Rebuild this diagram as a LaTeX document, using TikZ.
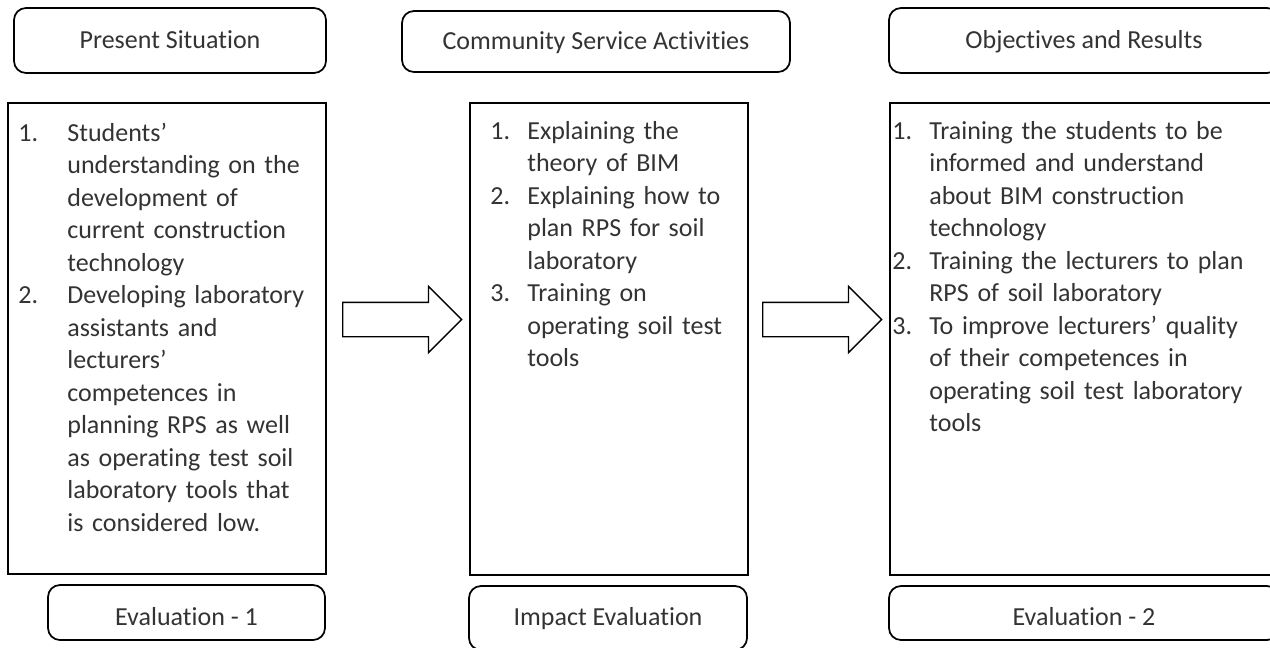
\documentclass[tikz,border=0pt]{standalone}
\usepackage{fontspec}
\setmainfont[Ligatures={TeX,NoCommon}]{Carlito}
\usepackage{enumitem}
\usetikzlibrary{shapes.arrows}
\newcommand{\boxfont}{\fontsize{14.8pt}{18.5pt}\selectfont}
\setlist[enumerate]{label=\arabic*., labelsep=0pt, align=left, nosep}
\tikzset{
        headbox/.style={draw, rounded corners=0.24cm, line width=1pt, inner sep=0pt, font=\boxfont, text=black!80, text height=12pt, text depth=3pt},
        lowtext/.style={text height=17.5pt},
        panel/.style={draw, line width=1pt, inner sep=0pt, anchor=north west},
        listtext/.style={anchor=north west, inner sep=0pt, text width=#1, align=left, font=\boxfont, text=black!80},
        listtext/.default=6cm,
        blockarrow/.style={draw, single arrow, single arrow head extend=0.32cm, minimum height=2.38cm, inner xsep=0pt, inner ysep=0.33cm, line width=0.8pt, anchor=tail}
}
\begin{document}
\begin{tikzpicture}
        \useasboundingbox (0,0) rectangle (25.4,-12.96);
        \node[headbox, minimum width=6.24cm, minimum height=1.30cm] (sit) at (3.40,-0.81) {Present Situation};
        \node[headbox, minimum width=7.76cm, minimum height=1.22cm] (act) at (11.92,-0.83) {Community Service Activities};
        \node[headbox, minimum width=7.80cm, minimum height=1.30cm] (obj) at (21.68,-0.81) {Objectives and Results};
        \node[panel, minimum width=6.36cm, minimum height=9.42cm] (sitbox) at (0.14,-2.04) {};
        \node[panel, minimum width=5.56cm, minimum height=9.44cm] (actbox) at (9.38,-2.04) {};
        \node[panel, minimum width=7.80cm, minimum height=9.44cm] (objbox) at (17.78,-2.04) {};
        \node[listtext=6cm] (sitlist) at ([xshift=0.22cm, yshift=-0.13cm]sitbox.north west) {%
                \begin{enumerate}[leftmargin=0.98cm, labelwidth=0.98cm]
                \item Students’\\ understanding on the\\ development of\\ current construction\\ technology
                \item Developing laboratory\\ assistants and\\ lecturers’\\ competences in\\ planning RPS as well\\ as operating test soil\\ laboratory tools that\\ is considered low.
                \end{enumerate}};
        \node[listtext=5.2cm] (actlist) at ([xshift=0.42cm, yshift=-0.09cm]actbox.north west) {%
                \begin{enumerate}[leftmargin=0.74cm, labelwidth=0.74cm]
                \item Explaining the\\ theory of BIM
                \item Explaining how to\\ plan RPS for soil\\ laboratory
                \item Training on\\ operating soil test\\ tools
                \end{enumerate}};
        \node[listtext=7.4cm] (objlist) at ([xshift=0.06cm, yshift=-0.09cm]objbox.north west) {%
                \begin{enumerate}[leftmargin=0.74cm, labelwidth=0.74cm]
                \item Training the students to be\\ informed and understand\\ about BIM construction\\ technology
                \item Training the lecturers to plan\\ RPS of soil laboratory
                \item To improve lecturers’ quality\\ of their competences in\\ operating soil test laboratory\\ tools
                \end{enumerate}};
        \node[headbox, lowtext, minimum width=5.54cm, minimum height=1.10cm] (eval1) at (3.73,-12.25) {Evaluation - 1};
        \node[headbox, minimum width=5.56cm, minimum height=1.28cm] (impact) at (12.16,-12.36) {Impact Evaluation};
        \node[headbox, lowtext, minimum width=7.80cm, minimum height=1.08cm] (eval2) at (21.68,-12.26) {Evaluation - 2};
        \node[blockarrow] (arr1) at (6.84,-6.39) {};
        \node[blockarrow] (arr2) at (15.24,-6.39) {};
\end{tikzpicture}
\end{document}
